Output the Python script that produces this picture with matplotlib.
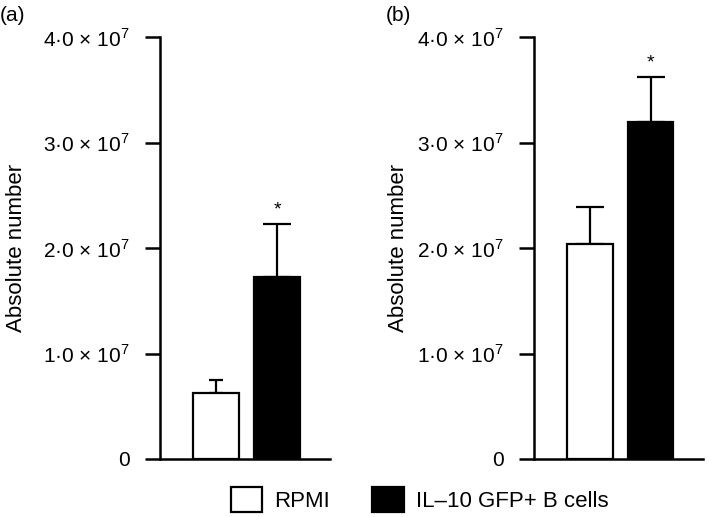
import matplotlib
matplotlib.use("Agg")
import matplotlib.pyplot as plt
from matplotlib.patches import Patch

plt.rcParams["font.family"] = ["Liberation Sans", "DejaVu Sans"]
plt.rcParams["mathtext.fontset"] = "custom"
plt.rcParams["mathtext.rm"] = "Liberation Sans"

# ── DATA ─────────────────────────────────────────────────
groups = ["RPMI", "IL\u201310 GFP+ B cells"]
panels = ["(a)", "(b)"]
means_a = [0.625e7, 1.725e7]
errs_a = [0.125e7, 0.505e7]
means_b = [2.04e7, 3.19e7]
errs_b = [0.35e7, 0.43e7]
sig_a = ["", "*"]
sig_b = ["", "*"]
yticks = [0, 1e7, 2e7, 3e7, 4e7]
ytick_labels = ["0",
                "1\u00b70 \u00d7 10$^{7}$",
                "2\u00b70 \u00d7 10$^{7}$",
                "3\u00b70 \u00d7 10$^{7}$",
                "4\u00b70 \u00d7 10$^{7}$"]

colors = ["white", "black"]
W, H = 709, 517
fig = plt.figure(figsize=(W / 100, H / 100), dpi=100)

# axes boxes in pixels: left, right
boxes = [(160, 330), (534, 703)]
top_px, bot_px = 37, 459
positions = [0.33, 0.69]
caps = [[5, 10], [10, 10]]
label_x = [-0.78, -0.74]
panel_x = [-0.94, -0.88]

for i, ((l, r), name, means, errs, sig, cap) in enumerate(zip(
        boxes, panels, [means_a, means_b], [errs_a, errs_b],
        [sig_a, sig_b], caps)):
    ax = fig.add_axes([l / W, (H - bot_px) / H, (r - l) / W, (bot_px - top_px) / H])
    ax.bar(positions, means, width=0.27, color=colors, edgecolor="black",
           linewidth=1.6, zorder=3)
    for x, m, e, c, s in zip(positions, means, errs, cap, sig):
        ax.errorbar(x, m, yerr=[[0], [e]], fmt="none", ecolor="black",
                    elinewidth=1.6, capsize=c, capthick=1.6, zorder=2)
        if s:
            ax.text(x, m + e + 0.05e7, s, ha="center", va="bottom", fontsize=14)
    ax.set_xlim(0, 1)
    ax.set_ylim(0, 4e7)
    ax.set_yticks(yticks)
    ax.set_yticklabels(ytick_labels, fontsize=15)
    ax.set_xticks([])
    ax.tick_params(axis="y", length=10.5, width=1.8, pad=11)
    for sp in ["top", "right"]:
        ax.spines[sp].set_visible(False)
    for sp in ["left", "bottom"]:
        ax.spines[sp].set_linewidth(1.8)
    ax.set_ylabel("Absolute number", fontsize=16)
    ax.yaxis.set_label_coords(label_x[i], 0.5)
    ax.text(panel_x[i], 1.052, name, transform=ax.transAxes,
            fontsize=15, ha="left", va="center")

handles = [Patch(facecolor=c, edgecolor="black", linewidth=1.6) for c in colors]
fig.legend(handles, groups, loc="center", bbox_to_anchor=(0.592, 0.033), ncol=2,
           frameon=False, fontsize=16, handlelength=1.4, handleheight=1.35,
           handletextpad=0.55, columnspacing=1.9)

plt.savefig("out.png", dpi=100)
print("Saved out.png")
